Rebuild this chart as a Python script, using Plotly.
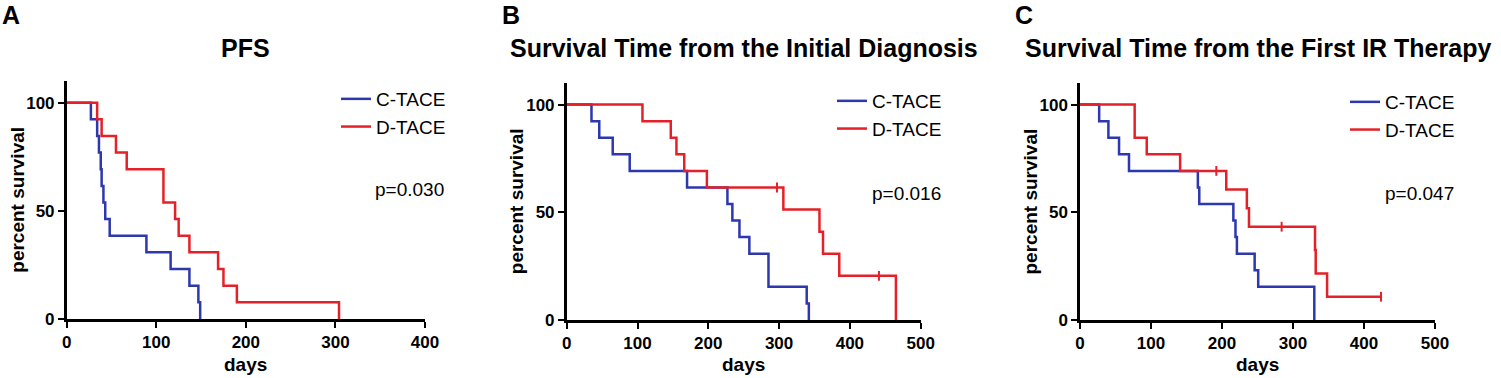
import plotly.graph_objects as go

# ---------------- data ----------------
# Panel A: PFS
A_C_time = [0, 27, 34, 36, 38, 39, 41, 43, 48, 89, 116, 137, 147, 149]
A_C_surv = [100, 92.3, 84.6, 76.9, 69.2, 61.5, 53.8, 46.2, 38.5, 30.8, 23.1, 15.4, 7.7, 0]
A_D_time = [0, 34, 39, 55, 67, 108, 121, 125, 137, 169, 175, 190, 304]
A_D_surv = [100, 92.3, 84.6, 76.9, 69.2, 53.8, 46.2, 38.5, 30.8, 23.1, 15.4, 7.7, 0]
A_D_cens_t = []
A_D_cens_s = []

# Panel B: survival from initial diagnosis
B_C_time = [0, 35, 46, 65, 89, 170, 227, 234, 244, 258, 285, 339, 342]
B_C_surv = [100, 92.3, 84.6, 76.9, 69.2, 61.5, 53.8, 46.2, 38.5, 30.8, 15.4, 7.7, 0]
B_D_time = [0, 107, 147, 155, 166, 198, 306, 357, 362, 385, 465]
B_D_surv = [100, 92.3, 84.6, 76.9, 69.2, 61.5, 51.3, 41.0, 30.8, 20.5, 0]
B_D_cens_t = [297, 441]
B_D_cens_s = [61.5, 20.5]

# Panel C: survival from first IR therapy
C_C_time = [0, 27, 40, 55, 69, 166, 168, 216, 219, 221, 246, 251, 330]
C_C_surv = [100, 92.3, 84.6, 76.9, 69.2, 61.5, 53.8, 46.2, 38.5, 30.8, 23.1, 15.4, 0]
C_D_time = [0, 77, 94, 141, 206, 235, 238, 331, 332, 348, 424]
C_D_surv = [100, 84.6, 76.9, 69.2, 60.6, 51.9, 43.3, 32.5, 21.6, 10.8, 10.8]
C_D_cens_t = [192, 284, 424]
C_D_cens_s = [69.2, 43.3, 10.8]

titles = ["PFS", "Survival Time from the Initial Diagnosis", "Survival Time from the First IR Therapy"]
letters = ["A", "B", "C"]
pvalues = ["p=0.030", "p=0.016", "p=0.047"]
x_max = [400, 500, 500]
group_names = ["C-TACE", "D-TACE"]
x_title = "days"
y_title = "percent survival"

BLUE = "#2D37AE"
RED = "#E42128"
FONT = "Liberation Sans, Arial, sans-serif"

W, H = 1501, 378
# plot areas in pixels (left, right)
xpix = [(66.7, 425), (566.7, 920.7), (1080, 1435)]
ytops = [81, 83, 83]
ybots = [319, 320, 320]
legend_pos = [(336, 80), (832, 82), (1345, 83)]
p_pos = [(373, 189), (870, 193), (1383, 193)]
letter_x = [0, 500, 1013]

panels = [
    (A_C_time, A_C_surv, A_D_time, A_D_surv, A_D_cens_t, A_D_cens_s),
    (B_C_time, B_C_surv, B_D_time, B_D_surv, B_D_cens_t, B_D_cens_s),
    (C_C_time, C_C_surv, C_D_time, C_D_surv, C_D_cens_t, C_D_cens_s),
]

fig = go.Figure()
layout = dict(
    width=W, height=H, margin=dict(l=0, r=0, t=0, b=0, autoexpand=False),
    paper_bgcolor="white", plot_bgcolor="white",
    font=dict(family=FONT, color="black"),
)
annotations = []

for i, (ct, cs, dt, ds, cens_t, cens_s) in enumerate(panels):
    k = "" if i == 0 else str(i + 1)
    xa, ya = "x" + k, "y" + k
    leg = "legend" + k
    x0, x1 = xpix[i]
    ytop, ybot = ytops[i], ybots[i]
    dom_x = [x0 / W, x1 / W]
    dom_y = [(H - ybot) / H, (H - ytop) / H]
    layout["xaxis" + k] = dict(
        domain=dom_x, anchor=ya, range=[0, x_max[i]], tickvals=list(range(0, x_max[i] + 1, 100)),
        showline=True, linecolor="black", linewidth=2.5, ticks="outside", ticklen=6, tickwidth=2,
        tickcolor="black", showgrid=False, zeroline=False, automargin=False,
        tickfont=dict(size=17, family=FONT, weight="bold"),
    )
    layout["yaxis" + k] = dict(
        domain=dom_y, anchor=xa, range=[0, 110], tickvals=[0, 50, 100],
        showline=True, linecolor="black", linewidth=2.5, ticks="outside", ticklen=6, tickwidth=2,
        tickcolor="black", showgrid=False, zeroline=False, automargin=False,
        tickfont=dict(size=17, family=FONT, weight="bold"),
    )
    layout[leg] = dict(
        x=legend_pos[i][0] / W, y=(H - legend_pos[i][1]) / H, xanchor="left", yanchor="top",
        bgcolor="rgba(0,0,0,0)", font=dict(size=19, family=FONT), tracegroupgap=0,
        itemwidth=30,
    )
    fig.add_trace(go.Scatter(x=ct, y=cs, mode="lines", line=dict(color=BLUE, width=2.5, shape="hv"),
                             name=group_names[0], xaxis=xa, yaxis=ya, legend=leg, showlegend=True))
    fig.add_trace(go.Scatter(x=dt, y=ds, mode="lines", line=dict(color=RED, width=2.5, shape="hv"),
                             name=group_names[1], xaxis=xa, yaxis=ya, legend=leg, showlegend=True))
    if cens_t:
        fig.add_trace(go.Scatter(x=cens_t, y=cens_s, mode="markers",
                                 marker=dict(symbol="line-ns", size=7, line=dict(color=RED, width=2)),
                                 xaxis=xa, yaxis=ya, showlegend=False))
    xc = (x0 + x1) / 2
    yc = (ytop + ybot) / 2
    annotations.append(dict(text="<b>" + titles[i] + "</b>", x=xc / W, y=(H - 48) / H, xref="paper", yref="paper",
                            showarrow=False, font=dict(size=25, family=FONT), xanchor="center", yanchor="middle"))
    annotations.append(dict(text="<b>" + letters[i] + "</b>", x=letter_x[i] / W, y=(H - 15) / H,
                            xref="paper", yref="paper", showarrow=False, font=dict(size=25, family=FONT),
                            xanchor="left", yanchor="middle"))
    annotations.append(dict(text=pvalues[i], x=p_pos[i][0] / W, y=(H - p_pos[i][1]) / H,
                            xref="paper", yref="paper", showarrow=False, font=dict(size=19, family=FONT),
                            xanchor="left", yanchor="middle"))
    annotations.append(dict(text="<b>" + x_title + "</b>", x=xc / W, y=(H - 364) / H,
                            xref="paper", yref="paper", showarrow=False, font=dict(size=19, family=FONT),
                            xanchor="center", yanchor="middle"))
    annotations.append(dict(text="<b>" + y_title + "</b>", x=(x0 - 50) / W, y=(H - yc) / H, textangle=-90,
                            xref="paper", yref="paper", showarrow=False, font=dict(size=19, family=FONT),
                            xanchor="center", yanchor="middle"))

layout["annotations"] = annotations
fig.update_layout(**layout)
fig.write_html("out.html", config={"displayModeBar": False},
               post_script="document.body.style.margin='0';document.body.style.overflow='hidden';")
